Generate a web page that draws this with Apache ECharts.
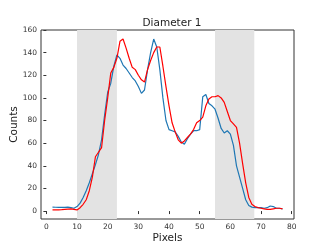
<!DOCTYPE html>
<html><head><meta charset="utf-8">
<script src="https://cdn.jsdelivr.net/npm/echarts@6/dist/echarts.min.js"></script>
<style>html,body{margin:0;padding:0;background:#fff}#c{width:327px;height:246px}</style>
</head><body><div id="c"></div>
<script>
const pixels = [];
for (let i = 2; i <= 77; i++) pixels.push(i);
const blueCounts = [3.5,3.4,3.3,3.2,3.3,3.5,3,2.5,4,7,12,18,25,33,41,50,63,85,105,113,128,138,135,129,126,122,118,115,110,104,107,125,140,152,145,125,100,80,72,71,70,66,61,59,64,68,71,71,72,101,103,95,93,90,82,73,69,71,68,58,40,30,20,10,5,3.5,3,3,3,2.5,3,4.5,4,2.5,2.5,2];
const redCounts = [1,1,1,1.2,1.5,1.8,2,1.5,1,3,6,10,18,30,48,52,56,80,100,122,127,135,150,152,144,135,127,125,120,116,114,125,133,140,145,145,128,110,93,78,70,63,60,62,65,68,72,78,80,83,93,99,101,101,102,100,96,88,80,77,74,60,42,25,12,6,4,3,2.5,2,1.5,1.5,2,2.5,2.5,2];
const shadeRanges = [[10, 23], [55, 67.8]];
const xTicks = [0,10,20,30,40,50,60,70,80];
const yTicks = [0,20,40,60,80,100,120,140,160];
const titleText = 'Diameter 1';
const xLabel = 'Pixels';
const yLabel = 'Counts';

const chart = echarts.init(document.getElementById('c'), null, {renderer: 'canvas'});
const font = 'DejaVu Sans';
chart.setOption({
  animation: false,
  title: {text: titleText, left: 167, top: 13, textAlign: 'center',
    textStyle: {fontFamily: font, fontSize: 10.5, fontWeight: 'normal', color: '#222'}},
  grid: {left: 41, right: 33, top: 30, bottom: 27, show: true, borderColor: '#333', borderWidth: 1,
    backgroundColor: 'transparent', containLabel: false, outerBoundsMode: 'none'},
  xAxis: {type: 'value', min: -1.75, max: 80.75,
    name: xLabel, nameLocation: 'middle', nameGap: 14, nameMoveOverlap: false,
    nameTextStyle: {fontFamily: font, fontSize: 10.5, color: '#222'},
    axisLine: {show: false}, splitLine: {show: false},
    axisTick: {show: true, inside: false, length: 3, customValues: xTicks, lineStyle: {color: '#333'}},
    axisLabel: {customValues: xTicks, fontFamily: font, fontSize: 7.5, color: '#333', margin: 4}},
  yAxis: {type: 'value', min: -7, max: 160,
    name: yLabel, nameLocation: 'middle', nameGap: 21, nameMoveOverlap: false,
    nameTextStyle: {fontFamily: font, fontSize: 10.5, color: '#222'},
    axisLine: {show: false}, splitLine: {show: false},
    axisTick: {show: true, inside: false, length: 3, customValues: yTicks, lineStyle: {color: '#333'}},
    axisLabel: {customValues: yTicks, fontFamily: font, fontSize: 7.5, color: '#333', margin: 4}},
  series: [
    {type: 'line', data: [], z: 1, silent: true,
      markArea: {silent: true, itemStyle: {color: '#e3e3e3'},
        data: shadeRanges.map(r => [{xAxis: r[0]}, {xAxis: r[1]}])}},
    {type: 'line', z: 3, showSymbol: false, data: pixels.map((p, i) => [p, blueCounts[i]]),
      lineStyle: {color: '#1f77b4', width: 1.2}},
    {type: 'line', z: 4, showSymbol: false, data: pixels.map((p, i) => [p, redCounts[i]]),
      lineStyle: {color: '#ff0000', width: 1.2}}
  ]
});
</script></body></html>
